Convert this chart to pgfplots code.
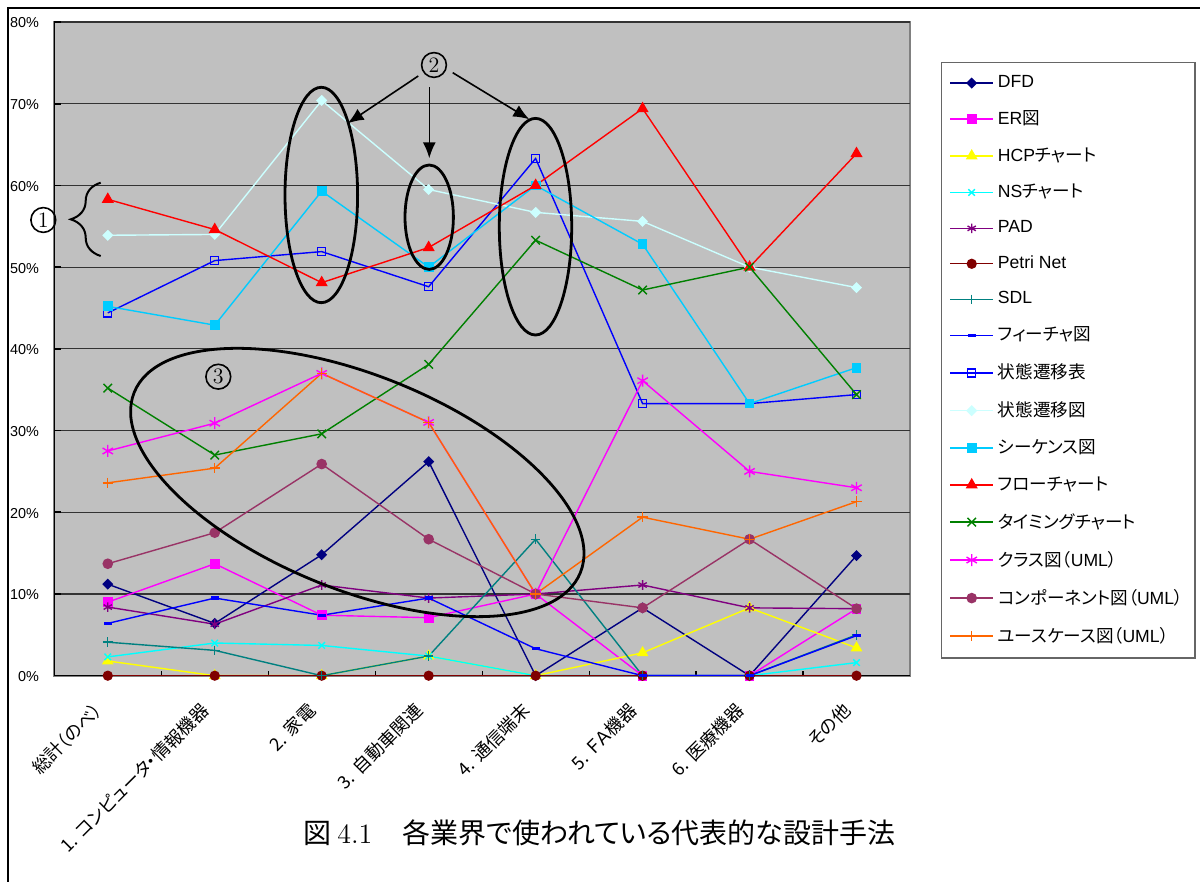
\documentclass[border=0pt]{standalone}
\usepackage{fontspec}
\usepackage{pgfplots}
\pgfplotsset{compat=1.18}
\usepackage{pgfplotstable}
\usetikzlibrary{arrows.meta,decorations.pathreplacing}

\newfontfamily\lat{Liberation Sans}
\newfontfamily\jp[RawFeature={+palt}]{Noto Sans CJK JP}

\definecolor{plotgray}{HTML}{C0C0C0}
\definecolor{cDFD}{HTML}{000080}
\definecolor{cER}{HTML}{FF00FF}
\definecolor{cHCP}{HTML}{FFFF00}
\definecolor{cNS}{HTML}{00FFFF}
\definecolor{cPAD}{HTML}{800080}
\definecolor{cPetri}{HTML}{800000}
\definecolor{cSDL}{HTML}{008080}
\definecolor{cFeat}{HTML}{0000FF}
\definecolor{cSTT}{HTML}{0000FF}
\definecolor{cSTD}{HTML}{CCFFFF}
\definecolor{cSeq}{HTML}{00CCFF}
\definecolor{cFlow}{HTML}{FF0000}
\definecolor{cTim}{HTML}{008000}
\definecolor{cCls}{HTML}{FF00FF}
\definecolor{cCmp}{HTML}{993366}
\definecolor{cUC}{HTML}{FF6600}

% share of respondents (%) using each design method, per industry
\pgfplotstableread{
x   dfd  er   hcp  ns   pad  petri sdl  feat stt  std  seq  flow tim  cls  cmp  uc
0.5 11.2 9.0  1.8  2.3  8.4  0     4.1  6.4  44.4 53.9 45.2 58.3 35.2 27.5 13.7 23.6
1.5 6.4  13.7 0    4.0  6.3  0     3.1  9.5  50.8 54.0 42.9 54.6 27.0 30.9 17.5 25.4
2.5 14.8 7.4  0    3.7  11.1 0     0    7.4  51.9 70.4 59.3 48.1 29.6 37.0 25.9 37.0
3.5 26.2 7.1  2.4  2.4  9.5  0     2.4  9.5  47.6 59.5 50.0 52.4 38.1 31.0 16.7 31.0
4.5 0    10.0 0    0    10.0 0     16.7 3.3  63.3 56.7 60.0 60.0 53.3 10.0 10.0 10.0
5.5 8.3  0    2.8  0    11.1 0     0    0    33.3 55.6 52.8 69.4 47.2 36.1 8.3  19.4
6.5 0    0    8.3  0    8.3  0     0    0    33.3 50.0 33.3 50.0 50.0 25.0 16.7 16.7
7.5 14.7 8.2  3.4  1.6  8.2  0     5.0  4.9  34.4 47.5 37.7 63.9 34.4 23.0 8.2  21.3
}\methods

\newcommand\lstrut{\rule[-2.5pt]{0pt}{8pt}}

\begin{document}
\begin{tikzpicture}
\begin{axis}[
  at={(27.15pt,103.15pt)}, anchor=south west,
  scale only axis, width=427.85pt, height=326.85pt,
  xmin=0, xmax=8, ymin=0, ymax=80,
  axis x line*=bottom, axis y line*=left,
  axis line style={black, line width=0.8pt},
  axis background/.style={fill=plotgray, draw=black!50, line width=1pt},
  ymajorgrids, grid style={black!80, line width=0.6pt},
  tick align=inside,
  major tick length=3.5pt, minor tick length=2.5pt,
  ytick={0,10,...,80},
  yticklabels={0\%,10\%,20\%,30\%,40\%,50\%,60\%,70\%,80\%},
  yticklabel style={font=\lat\fontsize{7.2}{8}\selectfont, anchor=east, inner sep=0pt, xshift=-7.5pt, yshift=-0.5pt},
  ytick style={black, line width=0.8pt},
  xtick={0.5,1.5,2.5,3.5,4.5,5.5,6.5,7.5},
  xticklabels={総計（のべ）, 1.\hspace{3pt}コンピュータ・情報機器, 2.\hspace{3pt}家電, 3.\hspace{3pt}自動車関連, 4.\hspace{3pt}通信端末, 5.\hspace{3pt}ＦＡ機器, 6.\hspace{3pt}医療機器, その他},
  major x tick style={draw=none},
  minor xtick={1,2,...,7},
  minor x tick style={black, line width=0.6pt},
  xticklabel style={font=\jp\fontsize{9}{10}\selectfont, xshift=-7.5pt, yshift=-12.5pt, rotate=45, anchor=north east, inner sep=0pt},
  every axis plot/.append style={line width=0.7pt},
  legend style={at={(axis description cs:1.0359,0.9393)}, anchor=north west,
    draw=black!60, line width=0.8pt, fill=white,
    inner xsep=4pt, inner ysep=4.5pt, row sep=6pt, column sep=0pt,
    font=\lat\fontsize{8.8}{10}\selectfont},
  legend cell align=left,
  legend image code/.code={\draw[mark repeat=2,mark phase=2] plot coordinates {(0pt,0pt) (10.75pt,0pt) (21.5pt,0pt)};},
]
\addplot[cDFD, mark=square*, mark size=1.6pt, mark options={solid, rotate=45, fill=cDFD}] table[x=x,y=dfd]{\methods};
\addlegendentry{\lstrut DFD}
\addplot[cER, mark=square*, mark size=2.1pt, mark options={solid, fill=cER}] table[x=x,y=er]{\methods};
\addlegendentry{\lstrut ER{\jp 図}}
\addplot[cHCP, mark=triangle*, mark size=2.7pt, mark options={solid, fill=cHCP}] table[x=x,y=hcp]{\methods};
\addlegendentry{\lstrut HCP{\jp チャート}}
\addplot[cNS, mark=x, mark size=2.3pt, mark options={solid}] table[x=x,y=ns]{\methods};
\addlegendentry{\lstrut NS{\jp チャート}}
\addplot[cPAD, mark=asterisk, mark size=2.4pt, mark options={solid}] table[x=x,y=pad]{\methods};
\addlegendentry{\lstrut PAD}
\addplot[cPetri, mark=*, mark size=2.2pt, mark options={solid, fill=cPetri}] table[x=x,y=petri]{\methods};
\addlegendentry{\lstrut Petri Net}
\addplot[cSDL, mark=+, mark size=2.4pt, mark options={solid}] table[x=x,y=sdl]{\methods};
\addlegendentry{\lstrut SDL}
\addplot[cFeat, mark=-, mark size=2pt, mark options={solid, line width=1.6pt}] table[x=x,y=feat]{\methods};
\addlegendentry{\lstrut{\jp フィーチャ図}}
\addplot[cSTT, mark=square, mark size=2pt, mark options={solid}] table[x=x,y=stt]{\methods};
\addlegendentry{\lstrut{\jp 状態遷移表}}
\addplot[cSTD, mark=square*, mark size=1.6pt, mark options={solid, rotate=45, fill=cSTD}] table[x=x,y=std]{\methods};
\addlegendentry{\lstrut{\jp 状態遷移図}}
\addplot[cSeq, mark=square*, mark size=2.1pt, mark options={solid, fill=cSeq}] table[x=x,y=seq]{\methods};
\addlegendentry{\lstrut{\jp シーケンス図}}
\addplot[cFlow, mark=triangle*, mark size=2.8pt, mark options={solid, fill=cFlow}] table[x=x,y=flow]{\methods};
\addlegendentry{\lstrut{\jp フローチャート}}
\addplot[cTim, mark=x, mark size=3pt, mark options={solid}] table[x=x,y=tim]{\methods};
\addlegendentry{\lstrut{\jp タイミングチャート}}
\addplot[cCls, mark=asterisk, mark size=3pt, mark options={solid}] table[x=x,y=cls]{\methods};
\addlegendentry{\lstrut{\jp クラス図（}UML{\jp ）}}
\addplot[cCmp, mark=*, mark size=2.3pt, mark options={solid, fill=cCmp}] table[x=x,y=cmp]{\methods};
\addlegendentry{\lstrut{\jp コンポーネント図（}UML{\jp ）}}
\addplot[cUC, mark=+, mark size=2.6pt, mark options={solid}] table[x=x,y=uc]{\methods};
\addlegendentry{\lstrut{\jp ユースケース図（}UML{\jp ）}}
\end{axis}

% callouts: groups of methods discussed in the text
\begin{scope}[line width=1.4pt]
  \draw (160.65pt,343.5pt) ellipse [x radius=18.15pt, y radius=53.85pt];
  \draw (214.6pt,332.4pt) ellipse [x radius=12.1pt, y radius=26.1pt];
  \draw (267.75pt,327.65pt) ellipse [x radius=18.1pt, y radius=54.15pt];
  \draw[rotate around={-22:(178.65pt,199.75pt)}] (178.65pt,199.75pt) ellipse [x radius=120.3pt, y radius=53.6pt];
\end{scope}
\begin{scope}[line width=0.8pt, -{Latex[length=8pt,width=6.5pt]}]
  \draw (209.15pt,403pt) -- (173.85pt,379.35pt);
  \draw (214.65pt,397.35pt) -- (214.65pt,361.85pt);
  \draw (226.35pt,404.65pt) -- (264.65pt,381.35pt);
\end{scope}
\draw[line width=1pt, decorate, decoration={brace, amplitude=15pt}] (50.35pt,313pt) -- (50.35pt,349.65pt);
\foreach \n/\px/\py in {1/21.65/331, 2/217/408.5, 3/109.15/252.65}{
  \draw[line width=0.8pt] (\px pt,\py pt) circle [radius=6.2pt];
  \node[font=\fontsize{11}{11}\selectfont, inner sep=0pt] at (\px pt,\py pt) {\n};
}

% page frame and figure caption
\draw[line width=1pt] (4pt,0pt) -- (4pt,437pt) -- (600pt,437pt);
\node[anchor=west, inner sep=0pt, font=\fontsize{14}{16}\selectfont] at (151.5pt,24.5pt)
  {{\jp 図}\hspace{3pt}4.1\hspace{15pt}{\jp 各業界で使われている代表的な設計手法}};

\pgfresetboundingbox
\useasboundingbox (0pt,0pt) rectangle (600pt,441pt);
\end{tikzpicture}
\end{document}
